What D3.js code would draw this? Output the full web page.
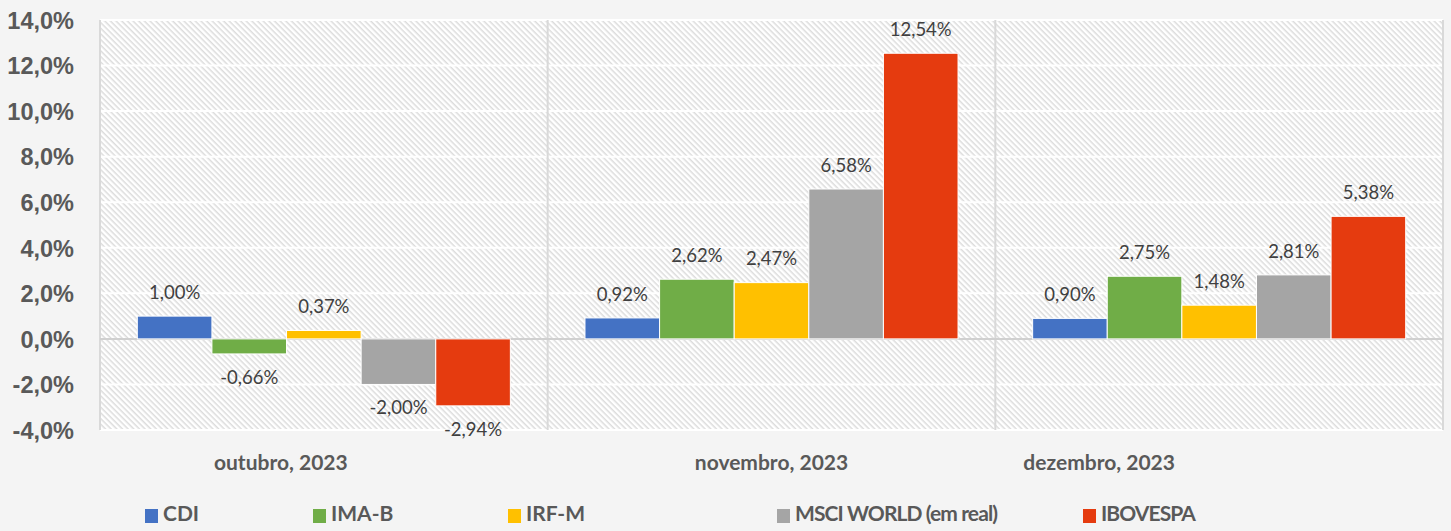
<!DOCTYPE html>
<html>
<head>
<meta charset="utf-8">
<script src="https://cdn.jsdelivr.net/npm/d3@7"></script>
<style>
  body { margin: 0; background: #f4f4f4; }
  svg { display: block; font-family: Lato, "Open Sans", sans-serif; }
</style>
</head>
<body>
<svg width="1451" height="531"></svg>
<script>
// Data
const months = ['outubro, 2023', 'novembro, 2023', 'dezembro, 2023'];
const seriesNames = ['CDI', 'IMA-B', 'IRF-M', 'MSCI WORLD (em real)', 'IBOVESPA'];
const seriesColors = ['#4472C4', '#70AD47', '#FFC000', '#A5A5A5', '#E53B0F'];
const cdi = [1.00, 0.92, 0.90];
const imab = [-0.66, 2.62, 2.75];
const irfm = [0.37, 2.47, 1.48];
const msci = [-2.00, 6.58, 2.81];
const ibov = [-2.94, 12.54, 5.38];
const yTicks = [-4, -2, 0, 2, 4, 6, 8, 10, 12, 14];

const values = [cdi, imab, irfm, msci, ibov];

const plot = { left: 100, right: 1443, top: 20, bottom: 430 };

const svg = d3.select('svg');

// hatch pattern for plot area
const defs = svg.append('defs');
const pat = defs.append('pattern')
    .attr('id', 'hatch')
    .attr('width', 4).attr('height', 4)
    .attr('patternUnits', 'userSpaceOnUse')
    .attr('patternTransform', 'rotate(45)');
pat.append('rect').attr('width', 4).attr('height', 4).attr('fill', '#ffffff');
pat.append('rect').attr('width', 4).attr('height', 1.5).attr('fill', '#dcdcdc');

// Scales
const x0 = d3.scaleBand().domain(months).range([plot.left, plot.right]);
const x1 = d3.scaleBand().domain(seriesNames)
    .range([0, x0.bandwidth()]).paddingInner(0).paddingOuter(0.5);
const y = d3.scaleLinear().domain([-4, 14]).range([plot.bottom, plot.top]);

svg.append('rect')
    .attr('x', plot.left).attr('y', plot.top)
    .attr('width', plot.right - plot.left).attr('height', plot.bottom - plot.top)
    .attr('fill', 'url(#hatch)');

// gridlines (white bands through the hatch)
svg.append('g').selectAll('line')
    .data(yTicks.filter(t => t !== 0))
    .join('line')
    .attr('x1', plot.left).attr('x2', plot.right)
    .attr('y1', d => y(d)).attr('y2', d => y(d))
    .attr('stroke', '#ffffff').attr('stroke-width', 2);

// category separators
svg.append('g').selectAll('line')
    .data(d3.range(months.length + 1))
    .join('line')
    .attr('x1', i => plot.left + i * x0.bandwidth())
    .attr('x2', i => plot.left + i * x0.bandwidth())
    .attr('y1', plot.top).attr('y2', plot.bottom)
    .attr('stroke', '#d9d9d9').attr('stroke-width', 2);

// zero line
svg.append('line')
    .attr('x1', plot.left).attr('x2', plot.right)
    .attr('y1', y(0)).attr('y2', y(0))
    .attr('stroke', '#d0d0d0').attr('stroke-width', 2);

// Y axis labels
const yAxis = d3.axisLeft(y)
    .tickValues(yTicks)
    .tickSize(0)
    .tickPadding(0)
    .tickFormat(d => d3.format('.1f')(d).replace('.', ',').replace('−', '-') + '%');
const yAxisG = svg.append('g')
    .attr('transform', 'translate(74,0)')
    .call(yAxis);
yAxisG.select('.domain').remove();
yAxisG.selectAll('text')
    .attr('fill', '#595959')
    .attr('font-size', 23.5)
    .attr('font-weight', 'bold')
    .attr('dy', '0.35em');

// Bars
const rows = [];
months.forEach((m, i) => {
    seriesNames.forEach((s, j) => {
        rows.push({ month: m, series: s, value: values[j][i], color: seriesColors[j] });
    });
});

const barG = svg.append('g');
barG.selectAll('rect')
    .data(rows)
    .join('rect')
    .attr('x', d => x0(d.month) + x1(d.series))
    .attr('width', x1.bandwidth())
    .attr('y', d => y(Math.max(0, d.value)))
    .attr('height', d => Math.abs(y(d.value) - y(0)))
    .attr('fill', d => d.color)
    .attr('stroke', '#ffffff')
    .attr('stroke-width', 1);

// Data labels
barG.selectAll('text')
    .data(rows)
    .join('text')
    .attr('x', d => x0(d.month) + x1(d.series) + x1.bandwidth() / 2)
    .attr('y', d => d.value >= 0 ? y(d.value) - 22 : y(d.value) + 25)
    .attr('text-anchor', 'middle')
    .attr('dominant-baseline', 'middle')
    .attr('font-size', 18.5)
    .attr('fill', '#404040')
    .text(d => d3.format('.2f')(d.value).replace('.', ',').replace('−', '-') + '%');

// Category labels (offset as in the original)
const catShift = [-43, 0, -120];
svg.append('g').selectAll('text')
    .data(months)
    .join('text')
    .attr('x', (d, i) => x0(d) + x0.bandwidth() / 2 + catShift[i])
    .attr('y', 465)
    .attr('text-anchor', 'middle')
    .attr('dominant-baseline', 'middle')
    .attr('font-size', 21)
    .attr('font-weight', 'bold')
    .attr('fill', '#595959')
    .text(d => d);

// Legend
const legendX = [145, 313, 508, 777, 1083];
const legend = svg.append('g').selectAll('g')
    .data(seriesNames)
    .join('g')
    .attr('transform', (d, i) => `translate(${legendX[i]},516)`);
legend.append('rect')
    .attr('x', 0).attr('y', -7)
    .attr('width', 13).attr('height', 14)
    .attr('fill', (d, i) => seriesColors[i]);
legend.append('text')
    .attr('x', 18).attr('y', 0)
    .attr('dominant-baseline', 'middle')
    .attr('font-size', 21)
    .attr('font-weight', 'bold')
    .attr('letter-spacing', d => d.length > 6 ? -0.9 : 0)
    .attr('fill', '#595959')
    .text(d => d);
</script>
</body>
</html>
